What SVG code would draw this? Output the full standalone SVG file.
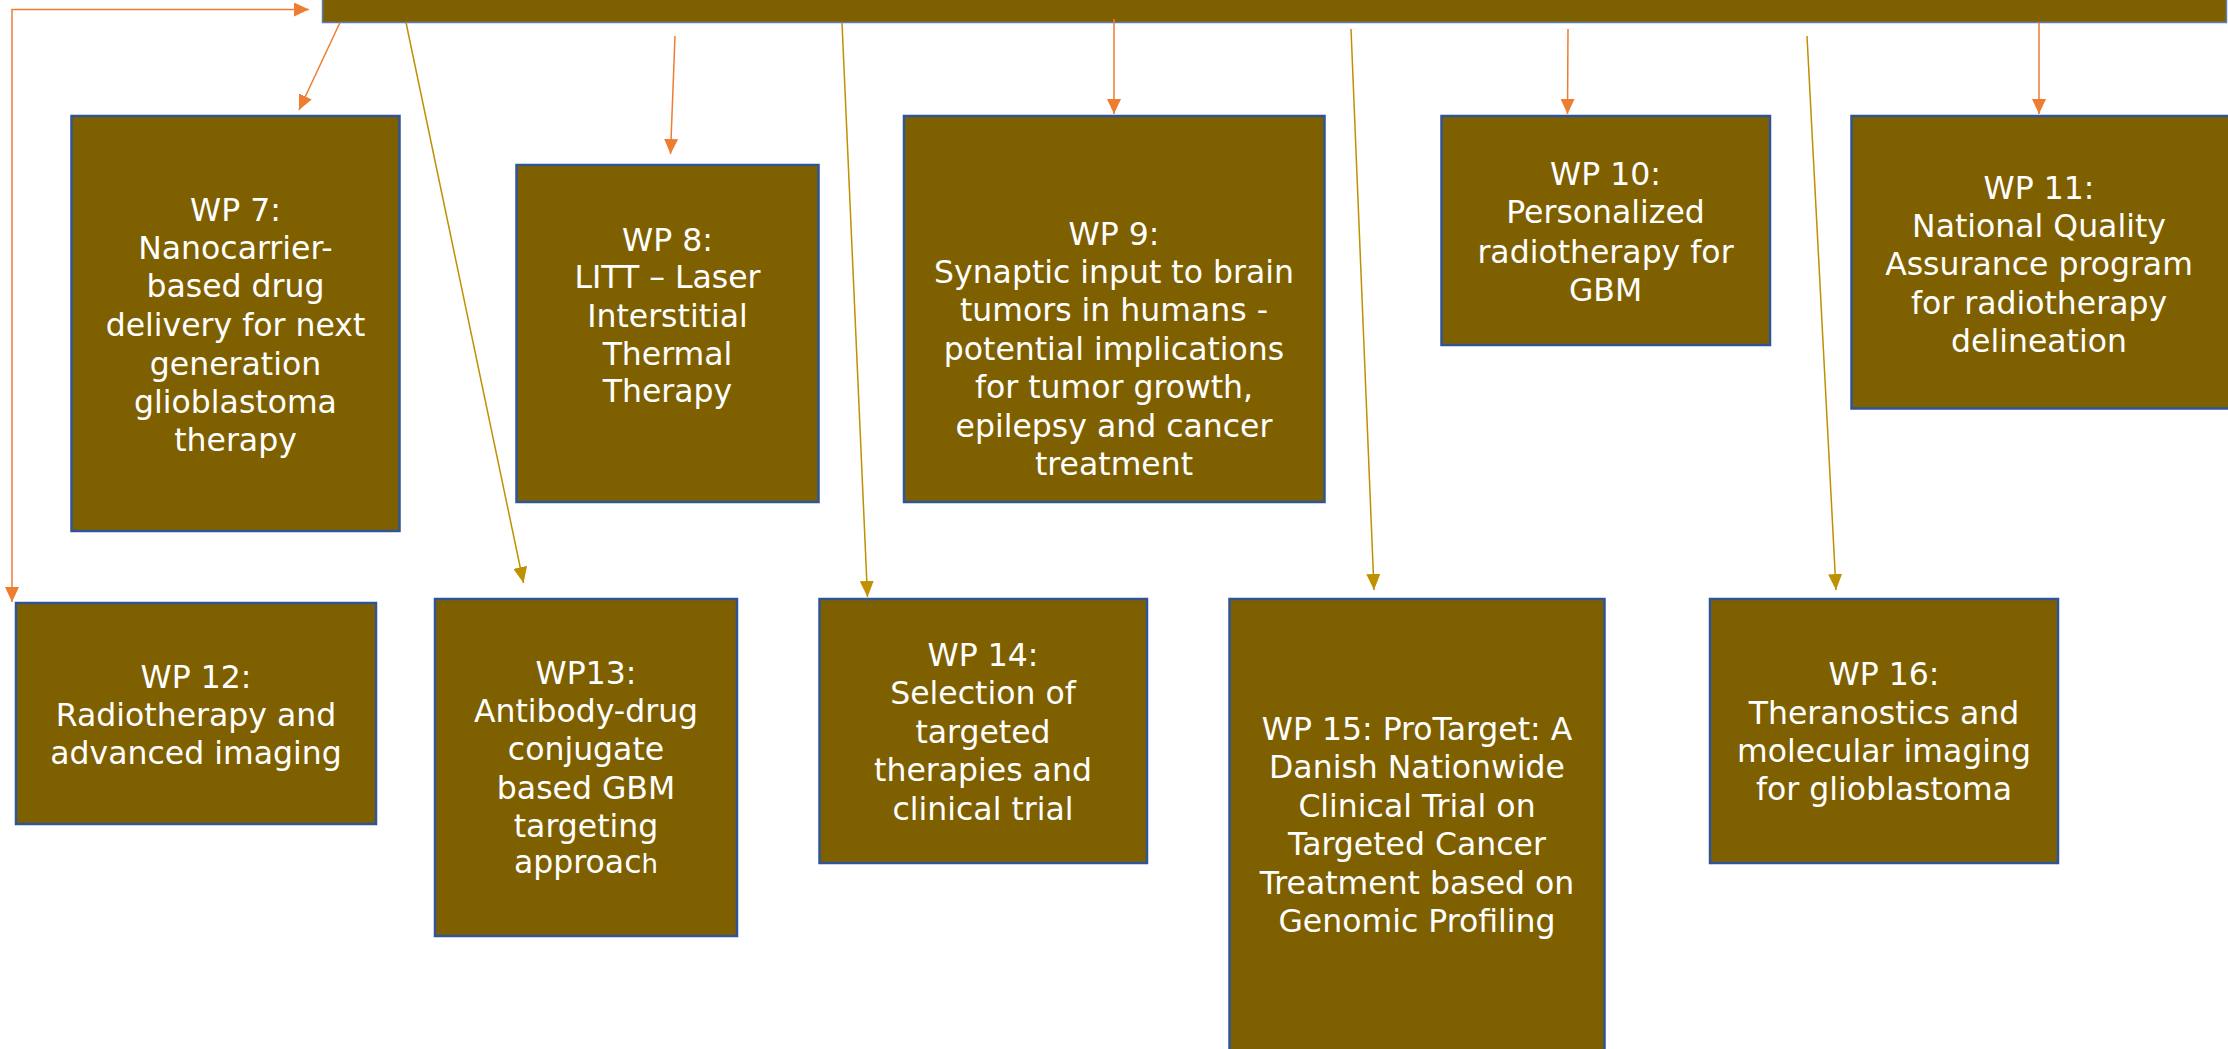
<svg xmlns="http://www.w3.org/2000/svg" width="2228" height="1049" viewBox="0 0 2228 1049">
<defs>
<style>
.box{fill:#7F6000;stroke:#2F5597;stroke-width:2.5}
.bar{fill:#7F6000;stroke:#5B7DB8;stroke-width:1.5}
.t{fill:#FFFFFF;font-family:"DejaVu Sans","Verdana",sans-serif;font-size:31.5px;text-anchor:middle}
.o{fill:none;stroke:#ED7D31;stroke-width:1.5}
.y{fill:none;stroke:#BF9000;stroke-width:1.5}
</style>
<marker id="ao" viewBox="0 0 15 14" refX="15" refY="7" markerWidth="15" markerHeight="14" markerUnits="userSpaceOnUse" orient="auto-start-reverse">
<path d="M0,0 L15,7 L0,14 Z" fill="#ED7D31"/>
</marker>
<marker id="ay" viewBox="0 0 16 14" refX="16" refY="7" markerWidth="16" markerHeight="14" markerUnits="userSpaceOnUse" orient="auto">
<path d="M0,0 L16,7 L0,14 Z" fill="#BF9000"/>
</marker>
</defs>
<rect width="2228" height="1049" fill="#FFFFFF"/>

<g id="top-bar"><rect class="bar" x="322.5" y="-5" width="1904" height="27.5"/></g>

<g id="connectors">
<path class="o" d="M309,9.5 L12,9.5 L12,602" marker-start="url(#ao)" marker-end="url(#ao)"/>
<path class="o" d="M340,22.5 L299,110" marker-end="url(#ao)"/>
<path class="o" d="M675,36 L670.5,154" marker-end="url(#ao)"/>
<path class="o" d="M1114,19 L1114,114" marker-end="url(#ao)"/>
<path class="o" d="M1568,29 L1567.5,114" marker-end="url(#ao)"/>
<path class="o" d="M2039,22.5 L2039,114" marker-end="url(#ao)"/>
<path class="y" d="M406,22.5 L523.5,583" marker-end="url(#ay)"/>
<path class="y" d="M842,22.5 L867.5,597" marker-end="url(#ay)"/>
<path class="y" d="M1351,29 L1374,590" marker-end="url(#ay)"/>
<path class="y" d="M1807,36 L1836,590" marker-end="url(#ay)"/>
</g>

<g id="wp7"><rect class="box" x="71.5" y="116" width="328" height="415"/>
<text class="t"><tspan x="235.5" y="221">WP 7:</tspan><tspan x="235.5" y="259">Nanocarrier-</tspan><tspan x="235.5" y="297">based drug</tspan><tspan x="235.5" y="335.5">delivery for next</tspan><tspan x="235.5" y="374.5">generation</tspan><tspan x="235.5" y="412.5">glioblastoma</tspan><tspan x="235.5" y="450.5">therapy</tspan></text></g>

<g id="wp8"><rect class="box" x="516.5" y="165" width="302" height="337"/>
<text class="t"><tspan x="667.5" y="250.5">WP 8:</tspan><tspan x="667.5" y="288">LITT – Laser</tspan><tspan x="667.5" y="327">Interstitial</tspan><tspan x="667.5" y="365">Thermal</tspan><tspan x="667.5" y="402">Therapy</tspan></text></g>

<g id="wp9"><rect class="box" x="904" y="116" width="420.5" height="386"/>
<text class="t"><tspan x="1114" y="245">WP 9:</tspan><tspan x="1114" y="283">Synaptic input to brain</tspan><tspan x="1114" y="321">tumors in humans -</tspan><tspan x="1114" y="360">potential implications</tspan><tspan x="1114" y="397.5">for tumor growth,</tspan><tspan x="1114" y="436.5">epilepsy and cancer</tspan><tspan x="1114" y="475">treatment</tspan></text></g>

<g id="wp10"><rect class="box" x="1441.5" y="116" width="328.5" height="229"/>
<text class="t"><tspan x="1605.5" y="185">WP 10:</tspan><tspan x="1605.5" y="223">Personalized</tspan><tspan x="1605.5" y="262.5">radiotherapy for</tspan><tspan x="1605.5" y="300.5">GBM</tspan></text></g>

<g id="wp11"><rect class="box" x="1851.5" y="116" width="378" height="292.5"/>
<text class="t"><tspan x="2039" y="198.5">WP 11:</tspan><tspan x="2039" y="236.5">National Quality</tspan><tspan x="2039" y="275">Assurance program</tspan><tspan x="2039" y="313.5">for radiotherapy</tspan><tspan x="2039" y="352">delineation</tspan></text></g>

<g id="wp12"><rect class="box" x="16" y="603" width="360" height="221"/>
<text class="t"><tspan x="196" y="687.5">WP 12:</tspan><tspan x="196" y="725.5">Radiotherapy and</tspan><tspan x="196" y="763.5">advanced imaging</tspan></text></g>

<g id="wp13"><rect class="box" x="435" y="599" width="302" height="337"/>
<text class="t"><tspan x="586" y="683.5">WP13:</tspan><tspan x="586" y="722">Antibody-drug</tspan><tspan x="586" y="760">conjugate</tspan><tspan x="586" y="798.5">based GBM</tspan><tspan x="586" y="837">targeting</tspan><tspan x="586" y="873">approac<tspan font-size="26">h</tspan></tspan></text></g>

<g id="wp14"><rect class="box" x="819.5" y="599" width="327.5" height="264"/>
<text class="t"><tspan x="983" y="666">WP 14:</tspan><tspan x="983" y="703.5">Selection of</tspan><tspan x="983" y="742.5">targeted</tspan><tspan x="983" y="781">therapies and</tspan><tspan x="983" y="820">clinical trial</tspan></text></g>

<g id="wp15"><rect class="box" x="1229.5" y="599" width="375" height="470"/>
<text class="t"><tspan x="1417" y="740">WP 15: ProTarget: A</tspan><tspan x="1417" y="777.5">Danish Nationwide</tspan><tspan x="1417" y="817">Clinical Trial on</tspan><tspan x="1417" y="855">Targeted Cancer</tspan><tspan x="1417" y="893.5">Treatment based on</tspan><tspan x="1417" y="932">Genomic Profiling</tspan></text></g>

<g id="wp16"><rect class="box" x="1710" y="599" width="348" height="264"/>
<text class="t"><tspan x="1884" y="685">WP 16:</tspan><tspan x="1884" y="723.5">Theranostics and</tspan><tspan x="1884" y="762">molecular imaging</tspan><tspan x="1884" y="800">for glioblastoma</tspan></text></g>
</svg>
